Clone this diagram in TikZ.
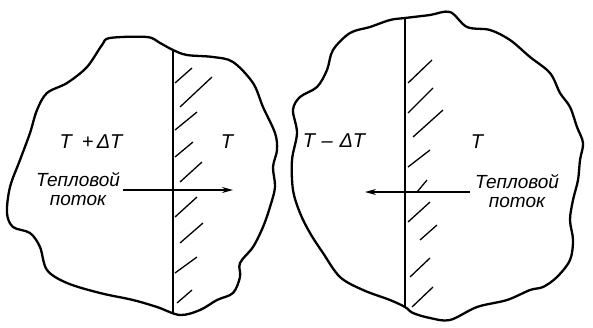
\documentclass[tikz,border=0pt]{standalone}
\usepackage{fontspec}
\setmainfont{Liberation Sans}
\usetikzlibrary{arrows.meta}
\begin{document}
\begin{tikzpicture}[x=1pt,y=-1pt, every node/.style={font=\itshape\fontsize{20}{18}\selectfont, inner sep=0pt}]
\useasboundingbox (0,0) rectangle (593,327);
% left body
\draw[line width=2.3pt, line join=round] plot[smooth cycle, tension=0.55] coordinates {
 (110,38) (147,37) (160,43) (173,50) (187,55) (213,57) (233,62) (253,83) (263,107)
 (275,133) (277,150) (273,167) (275,187) (270,207) (263,227) (253,247) (240,263)
 (240,277) (233,293) (217,300) (200,310) (180,315) (157,307) (133,300) (100,293)
 (67,283) (47,270) (40,247) (30,233) (13,227) (7,213) (10,187) (20,160) (30,133)
 (37,110) (47,93) (67,83) (87,67) (102,45)};
\coordinate (wallLtop) at (173,50);
\coordinate (wallLbot) at (173,313);
\draw[line width=2pt] (wallLtop) -- (wallLbot);
\foreach \a/\b/\c/\d in {175/83/192/68, 180/107/212/77, 175/130/197/112, 175/157/193/142,
 180/182/202/162, 175/217/197/197, 180/243/203/223, 175/273/197/257, 177/303/192/290}
 \draw[line width=1.3pt] (\a,\b) -- (\c,\d);
\node (hotL) at (91,142) {T\,\,\,+\,ΔT};
\node (coldL) at (227,142) {T};
\node[align=center, font=\itshape\fontsize{19}{19}\selectfont] (fluxL) at (78,189) {Тепловой\\поток};
\coordinate (arrLb) at (233,190);
\draw[line width=1.3pt, -{Stealth[length=11pt,width=6pt]}] ([xshift=3pt]fluxL.east |- arrLb) -- (arrLb);
% right body
\draw[line width=2.3pt, line join=round] plot[smooth cycle, tension=0.55] coordinates {
 (405,18) (430,15) (450,12) (467,27) (490,30) (510,40) (530,57) (550,73) (560,93)
 (570,107) (577,127) (583,143) (580,160) (578,180) (573,200) (570,220) (573,240)
 (570,260) (557,277) (543,287) (530,290) (507,300) (477,307) (450,320) (430,318)
 (413,313) (405,307) (390,300) (363,290) (340,277) (323,253) (310,233) (300,213)
 (293,190) (292,160) (297,133) (293,110) (300,97) (317,87) (327,70) (333,50)
 (350,33) (370,27) (390,20)};
\coordinate (wallRtop) at (405,18);
\coordinate (wallRbot) at (405,307);
\draw[line width=1.6pt] (wallRtop) -- (wallRbot);
\foreach \a/\b/\c/\d in {408/83/432/60, 408/113/433/88, 413/137/443/110, 408/167/430/150,
 417/192/427/180, 408/222/430/202, 420/240/437/225, 410/277/430/258, 412/307/433/287}
 \draw[line width=1.3pt] (\a,\b) -- (\c,\d);
\node (coldR) at (334,141) {T\,\,–\,\,ΔT};
\node (hotR) at (477,142) {T};
\node[align=center, font=\itshape\fontsize{19}{19}\selectfont] (fluxR) at (517,191) {Тепловой\\поток};
\coordinate (arrRb) at (365,192);
\draw[line width=1.3pt, -{Stealth[length=11pt,width=6pt]}] ([xshift=-5pt]fluxR.west |- arrRb) -- (arrRb);
\end{tikzpicture}
\end{document}
